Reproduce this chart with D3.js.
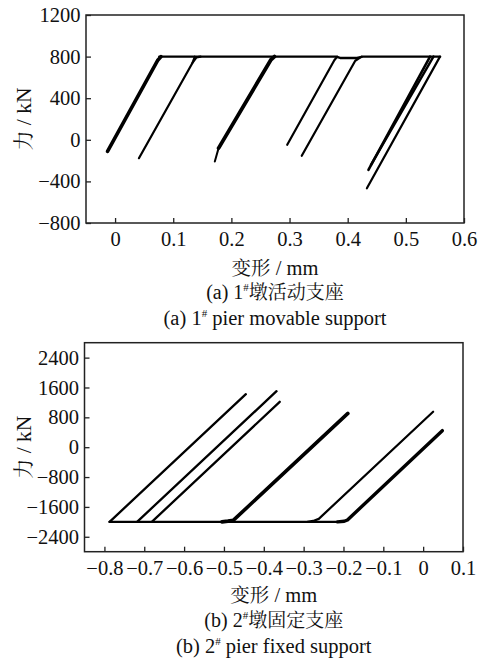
<!DOCTYPE html>
<html><head><meta charset="utf-8">
<script src="https://cdn.jsdelivr.net/npm/d3@7"></script>
<style>body{margin:0;background:#fff}</style>
</head><body><svg id="c" width="484" height="659"></svg>
<script>
// ---------- Panel (a): 1# pier movable support (deformation mm, force kN) ----------
const aXTicks = [0, 0.1, 0.2, 0.3, 0.4, 0.5, 0.6];
const aYTicks = [-800, -400, 0, 400, 800, 1200];
const aPlateau = [[0.076, 800], [0.137, 800], [0.147, 800], [0.380, 800], [0.387, 787], [0.416, 787], [0.426, 800], [0.559, 800]];
const aLineA = [[-0.013, -112], [0.073, 762], [0.079, 800]];
const aLineB = [[0.041, -177], [0.133, 739], [0.140, 792], [0.147, 800]];
const aLineBdown = [[0.137, 800], [0.133, 739]];
const aLineC = [[0.178, -80], [0.268, 770], [0.274, 800]];
const aLineCtail = [[0.1715, -209], [0.178, -80]];
const aLineD = [[0.296, -48], [0.377, 765], [0.382, 800]];
const aLineE = [[0.321, -154], [0.413, 760], [0.424, 800]];
const aLineF1 = [[0.4357, -289], [0.5416, 800]];
const aLineF2 = [[0.440, -241], [0.5475, 800]];
const aLineG = [[0.433, -466], [0.5587, 800]];

// ---------- Panel (b): 2# pier fixed support ----------
const bXTicks = [-0.8, -0.7, -0.6, -0.5, -0.4, -0.3, -0.2, -0.1, 0, 0.1];
const bYTicks = [-2400, -1600, -800, 0, 800, 1600, 2400];
const bPlateau = [[-0.787, -2000], [-0.215, -2000]];
const bLine1 = [[-0.787, -2000], [-0.445, 1421]];
const bLine2 = [[-0.718, -2000], [-0.368, 1501]];
const bLine3 = [[-0.681, -2000], [-0.360, 1216]];
const bLine4 = [[-0.505, -2000], [-0.490, -1980], [-0.476, -1955], [-0.189, 906]];
const bLine5 = [[-0.290, -2000], [-0.276, -1975], [-0.262, -1920], [0.025, 949]];
const bLine6 = [[-0.215, -2000], [-0.198, -1985], [-0.190, -1950], [0.048, 443]];

const SERIF = '"Liberation Serif","Times New Roman"';
const CJK = '"Noto Serif CJK SC","Noto Sans CJK SC"';
const svg = d3.select('#c');
const fmt = d3.format('');
function tickFmt(d){ return d === 0 ? '0' : fmt(d); }

function panel(cfg){
  const x = d3.scaleLinear().domain(cfg.xDomain).range([cfg.left, cfg.right]);
  const y = d3.scaleLinear().domain(cfg.yDomain).range([cfg.bottom, cfg.top]);
  const g = svg.append('g');
  const line = d3.line().x(d => x(d[0])).y(d => y(d[1]));
  cfg.series.forEach(s => {
    g.append('path').attr('d', line(s.pts)).attr('fill','none')
      .attr('stroke','#000').attr('stroke-width', s.w)
      .attr('stroke-linejoin','round').attr('stroke-linecap','round');
  });
  g.append('rect').attr('x',cfg.left).attr('y',cfg.top)
    .attr('width',cfg.right-cfg.left).attr('height',cfg.bottom-cfg.top)
    .attr('fill','none').attr('stroke','#222').attr('stroke-width',1.5);
  const xa = g.append('g').attr('transform',`translate(0,${cfg.bottom})`)
    .call(d3.axisBottom(x).tickValues(cfg.xTicks).tickSize(-5).tickPadding(8.5).tickFormat(tickFmt));
  const ya = g.append('g').attr('transform',`translate(${cfg.left},0)`)
    .call(d3.axisLeft(y).tickValues(cfg.yTicks).tickSize(-5).tickPadding(5.5).tickFormat(tickFmt));
  [xa, ya].forEach(a => {
    a.select('.domain').remove();
    a.selectAll('line').attr('stroke','#222').attr('stroke-width',1.3);
    a.selectAll('text').style('font-size','20.5px').style('font-family',SERIF).style('fill','#111');
  });
  const cx = (cfg.left + cfg.right) / 2;
  const mk = (yy, size) => g.append('text').attr('x',cx).attr('y',yy).attr('text-anchor','middle')
    .style('font-size', size + 'px').style('font-family', SERIF).style('fill','#111');
  const t = mk(cfg.titleY, 20.5);
  t.append('tspan').style('font-family',CJK).style('font-size','19.5px').text('变形');
  t.append('tspan').text(' / mm');
  const c1 = mk(cfg.cap1Y, 20);
  c1.append('tspan').text(cfg.capPrefix);
  c1.append('tspan').style('font-size','11px').attr('dy',-8).text('#');
  c1.append('tspan').style('font-family',CJK).style('font-size','19px').attr('dy',8).text(cfg.capCN);
  const c2 = mk(cfg.cap2Y, 20.5);
  c2.append('tspan').text(cfg.capPrefix);
  c2.append('tspan').style('font-size','11px').attr('dy',-8).text('#');
  c2.append('tspan').attr('dy',8).text(' ' + cfg.capEN);
  const yt = g.append('text').attr('transform',`translate(${cfg.yTitleX},${(cfg.top+cfg.bottom)/2}) rotate(-90)`)
    .attr('text-anchor','middle').attr('dy','0.35em')
    .style('font-size','21.5px').style('font-family',SERIF).style('fill','#111');
  yt.append('tspan').style('font-family',CJK).style('font-size','20px').text('力');
  yt.append('tspan').text(' / kN');
}

panel({
  left: 86, right: 464, top: 15, bottom: 223,
  xDomain: [-0.05, 0.6], yDomain: [-800, 1200],
  xTicks: aXTicks, yTicks: aYTicks,
  titleY: 274.5, cap1Y: 298.5, cap2Y: 325, yTitleX: 23,
  capPrefix: '(a) 1', capCN: '墩活动支座', capEN: 'pier movable support',
  series: [
    {pts: aPlateau, w: 2.4}, {pts: aLineA, w: 3.6}, {pts: aLineB, w: 2.2}, {pts: aLineBdown, w: 2},
    {pts: aLineC, w: 3.8}, {pts: aLineCtail, w: 2}, {pts: aLineD, w: 2.2}, {pts: aLineE, w: 2.2},
    {pts: aLineF1, w: 2.6}, {pts: aLineF2, w: 2.4}, {pts: aLineG, w: 2.2}
  ]
});

panel({
  left: 84.5, right: 463, top: 342.7, bottom: 551.7,
  xDomain: [-0.85, 0.1], yDomain: [-2800, 2800],
  xTicks: bXTicks, yTicks: bYTicks,
  titleY: 601.5, cap1Y: 627, cap2Y: 652.5, yTitleX: 23,
  capPrefix: '(b) 2', capCN: '墩固定支座', capEN: 'pier fixed support',
  series: [
    {pts: bPlateau, w: 2.4}, {pts: bLine1, w: 2.3}, {pts: bLine2, w: 2.3}, {pts: bLine3, w: 2.3},
    {pts: bLine4, w: 3.6}, {pts: bLine5, w: 2.2}, {pts: bLine6, w: 3.4}
  ]
});
</script>
</body></html>
